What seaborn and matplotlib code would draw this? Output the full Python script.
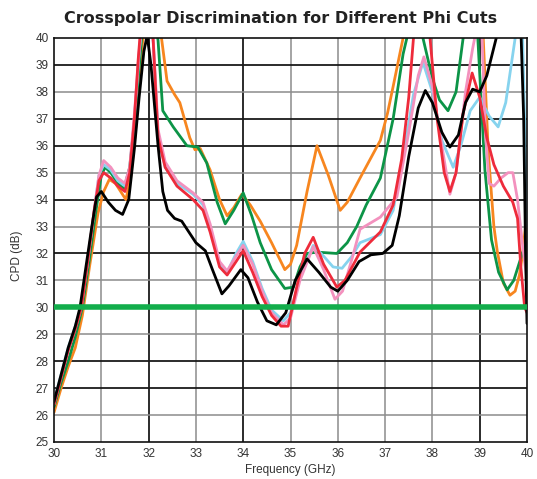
import matplotlib
matplotlib.use("Agg")
import matplotlib.pyplot as plt
import seaborn as sns
import pandas as pd

# ---- data ----
black_x = [30.0, 30.15, 30.3, 30.45, 30.55, 30.7, 30.8, 30.9, 31.0, 31.15, 31.3, 31.45, 31.58, 31.7, 31.8, 31.9, 31.97,
           32.05, 32.12, 32.2, 32.3, 32.4, 32.55, 32.7, 32.85, 33.0, 33.2, 33.35, 33.55, 33.7, 33.95, 34.1, 34.3, 34.5,
           34.7, 34.9, 35.1, 35.35, 35.6, 35.85, 36.0, 36.2, 36.45, 36.7, 36.95, 37.15, 37.3, 37.5, 37.7, 37.85, 38.0,
           38.2, 38.37, 38.55, 38.7, 38.85, 39.0, 39.15, 39.35, 39.5, 39.85, 39.93, 39.97, 40.0]
black_y = [26.5, 27.5, 28.5, 29.3, 30.0, 31.8, 33.0, 34.1, 34.3, 33.9, 33.6, 33.45, 34.0, 35.9, 37.8, 39.5, 40.1,
           39.0, 37.6, 36.0, 34.3, 33.6, 33.3, 33.2, 32.8, 32.4, 32.1, 31.4, 30.5, 30.8, 31.4, 31.1, 30.2, 29.5,
           29.35, 29.8, 31.0, 31.8, 31.3, 30.75, 30.6, 31.0, 31.7, 31.95, 32.0, 32.3, 33.4, 35.6, 37.4, 38.05, 37.6,
           36.5, 35.95, 36.4, 37.6, 38.1, 38.0, 38.6, 40.0, 41.0, 41.5, 37.0, 32.0, 29.4]

orange_x = [30.0, 30.15, 30.3, 30.45, 30.6, 30.75, 30.93, 31.05, 31.17, 31.3, 31.52, 31.62, 31.72, 31.85, 31.95, 32.2,
            32.28, 32.39, 32.55, 32.66, 32.87, 32.98, 33.09, 33.3, 33.5, 33.66, 33.8, 33.97, 34.15, 34.36, 34.6, 34.88,
            35.0, 35.13, 35.35, 35.56, 35.8, 36.05, 36.2, 36.47, 36.9, 37.05, 37.17, 37.38, 37.5, 39.05, 39.18, 39.3,
            39.37, 39.5, 39.64, 39.75, 39.84, 39.9, 40.0]
orange_y = [26.1, 27.0, 27.8, 28.5, 29.7, 31.5, 33.5, 34.3, 34.75, 34.6, 34.0, 34.8, 36.5, 39.5, 41.0, 41.0,
            39.9, 38.4, 37.9, 37.6, 36.3, 35.85, 35.9, 35.1, 34.0, 33.4, 33.7, 34.2, 33.8, 33.2, 32.4, 31.4,
            31.6, 32.3, 34.3, 36.0, 34.9, 33.6, 33.9, 34.8, 36.2, 37.2, 38.2, 40.0, 41.0, 41.0, 35.8, 33.0,
            32.1, 30.9, 30.45, 30.6, 31.2, 31.9, 33.5]

green_x = [30.0, 30.15, 30.3, 30.45, 30.6, 30.75, 30.88, 31.0, 31.08, 31.2, 31.35, 31.48, 31.6, 31.72, 31.82, 31.9,
           32.12, 32.2, 32.3, 32.52, 32.81, 33.04, 33.23, 33.45, 33.62, 33.8, 34.0, 34.18, 34.36, 34.6, 34.88, 35.06,
           35.2, 35.35, 35.56, 35.98, 36.2, 36.4, 36.6, 36.9, 37.17, 37.38, 37.46, 37.55, 37.7, 37.8, 38.0, 38.15,
           38.33, 38.5, 38.65, 38.75, 38.9, 38.96, 39.11, 39.25, 39.4, 39.58, 39.72, 39.9, 40.0]
green_y = [26.3, 27.2, 28.0, 28.9, 30.0, 31.8, 33.5, 34.9, 35.2, 35.0, 34.6, 34.4, 35.2, 37.2, 39.3, 41.0,
           41.0, 39.9, 37.3, 36.7, 36.0, 35.95, 35.36, 33.9, 33.1, 33.6, 34.25, 33.4, 32.4, 31.4, 30.7, 30.75,
           31.5, 32.0, 32.05, 32.0, 32.4, 33.0, 33.8, 34.8, 37.0, 39.4, 40.0, 41.0, 41.0, 40.0, 38.5, 37.7,
           37.3, 38.0, 40.0, 41.0, 41.0, 40.0, 35.1, 32.5, 31.3, 30.65, 31.0, 32.0, 32.4]

pink_x = [30.0, 30.15, 30.3, 30.45, 30.58, 30.72, 30.85, 30.95, 31.05, 31.2, 31.35, 31.5, 31.6, 31.7, 31.8, 31.88,
          32.05, 32.1, 32.2, 32.35, 32.6, 32.94, 33.15, 33.3, 33.5, 33.66, 33.85, 34.0, 34.2, 34.4, 34.6, 34.85,
          35.0, 35.2, 35.48, 35.7, 35.94, 36.1, 36.3, 36.47, 36.9, 37.25, 37.5, 37.7, 37.82, 38.0, 38.2, 38.37,
          38.5, 38.7, 38.85, 38.95, 39.05, 39.12, 39.2, 39.3, 39.45, 39.6, 39.7, 39.8, 39.92, 40.0]
pink_y = [26.4, 27.4, 28.4, 29.2, 30.0, 31.8, 33.6, 34.9, 35.45, 35.2, 34.8, 34.6, 35.2, 37.2, 39.5, 41.0,
          41.0, 39.9, 36.6, 35.4, 34.7, 34.25, 33.9, 33.1, 31.7, 31.35, 31.9, 32.3, 31.6, 30.6, 29.8, 29.35,
          29.6, 31.0, 32.25, 31.4, 30.3, 30.6, 31.8, 32.9, 33.35, 34.1, 36.5, 38.6, 39.3, 38.2, 36.0, 34.2,
          35.0, 38.0, 39.6, 40.5, 40.0, 36.5, 34.6, 34.5, 34.8, 35.0, 35.0, 34.0, 32.1, 31.0]

blue_x = [30.0, 30.15, 30.3, 30.45, 30.57, 30.72, 30.85, 30.95, 31.05, 31.2, 31.35, 31.5, 31.6, 31.7, 31.8, 31.88,
          32.05, 32.1, 32.2, 32.35, 32.6, 32.94, 33.15, 33.3, 33.5, 33.66, 33.85, 34.0, 34.2, 34.4, 34.6, 34.85,
          35.0, 35.2, 35.48, 35.7, 35.9, 36.09, 36.3, 36.47, 36.9, 37.17, 37.4, 37.6, 37.8, 38.0, 38.2, 38.44,
          38.6, 38.8, 39.0, 39.2, 39.39, 39.55, 39.75, 39.85, 39.9, 39.95, 40.0]
blue_y = [26.5, 27.5, 28.5, 29.3, 30.0, 31.8, 33.6, 34.9, 35.3, 35.1, 34.7, 34.5, 35.1, 37.0, 39.4, 41.0,
          41.0, 39.8, 36.4, 35.2, 34.6, 34.2, 33.8, 33.0, 31.6, 31.3, 32.0, 32.45, 31.7, 30.7, 29.9, 29.5,
          29.8, 31.1, 32.3, 31.9, 31.5, 31.45, 31.9, 32.4, 32.7, 33.6, 35.8, 37.9, 39.1, 38.0, 36.2, 35.2,
          36.0, 37.3, 37.8, 37.1, 36.7, 37.6, 40.0, 41.0, 40.5, 37.0, 33.0]

red_x = [30.0, 30.15, 30.3, 30.45, 30.58, 30.72, 30.85, 30.95, 31.05, 31.2, 31.35, 31.5, 31.6, 31.7, 31.78, 31.86,
         32.05, 32.1, 32.2, 32.35, 32.6, 32.94, 33.15, 33.3, 33.5, 33.66, 33.85, 34.0, 34.2, 34.4, 34.6, 34.8,
         34.95, 35.15, 35.3, 35.48, 35.7, 35.98, 36.15, 36.47, 36.9, 37.17, 37.35, 37.5, 37.6, 37.75, 37.85, 37.95,
         38.1, 38.25, 38.37, 38.5, 38.65, 38.84, 39.0, 39.15, 39.3, 39.5, 39.7, 39.8, 39.87, 39.95, 40.0]
red_y = [26.4, 27.4, 28.4, 29.2, 30.0, 31.8, 33.6, 34.7, 35.0, 34.8, 34.5, 34.3, 35.0, 37.0, 39.2, 41.0,
         41.0, 39.8, 36.3, 35.2, 34.5, 34.0, 33.6, 32.8, 31.5, 31.2, 31.7, 32.1, 31.3, 30.4, 29.7, 29.3,
         29.3, 30.9, 32.0, 32.6, 31.6, 30.75, 31.0, 32.05, 32.8, 33.8, 35.5, 37.8, 40.0, 41.0, 41.0, 40.0,
         37.0, 35.0, 34.3, 35.0, 37.2, 38.7, 37.8, 36.3, 35.3, 34.5, 33.9, 33.3, 31.5, 30.0, 29.8]

spec_level = 30.0
x_ticks = [30, 31, 32, 33, 34, 35, 36, 37, 38, 39, 40]
y_ticks = list(range(25, 41))

series = {
    "orange": (orange_x, orange_y),
    "green": (green_x, green_y),
    "blue": (blue_x, blue_y),
    "pink": (pink_x, pink_y),
    "red": (red_x, red_y),
    "black": (black_x, black_y),
}
rows = []
for name, (xs, ys) in series.items():
    for a, b in zip(xs, ys):
        rows.append({"series": name, "freq": a, "cpd": b})
df = pd.DataFrame(rows)

palette = {"orange": "#f7861f", "green": "#0c9447", "blue": "#86d3ee",
           "pink": "#f391be", "red": "#ee2b3b", "black": "#000000"}

sns.set_theme(style="white")
plt.rcParams["font.family"] = ["Liberation Sans", "DejaVu Sans"]

fig = plt.figure(figsize=(5.37, 4.79), dpi=100)
ax = fig.add_axes([54 / 537, 1 - 442 / 479, 473 / 537, 404 / 479])

# grid lines (mixed dark / grey like the scan)
dark_v = {32, 34, 39}
dark_h = {39, 37, 36, 34, 32, 28, 27}
for xv in x_ticks[1:-1]:
    ax.axvline(xv, color="#1a1a1a" if xv in dark_v else "#8c8c8c", lw=1.3 if xv in dark_v else 1.1, zorder=0)
for yv in y_ticks[1:-1]:
    ax.axhline(yv, color="#1a1a1a" if yv in dark_h else "#8c8c8c", lw=1.3 if yv in dark_h else 1.1, zorder=0)

sns.lineplot(data=df, x="freq", y="cpd", hue="series", hue_order=list(series.keys()),
             palette=palette, estimator=None, sort=False, lw=2.0, legend=False, ax=ax)

ax.axhline(spec_level, color="#12ad4b", lw=4.0, zorder=5)

ax.set_xlim(30, 40)
ax.set_ylim(25, 40)
ax.set_xticks(x_ticks)
ax.set_yticks(y_ticks)
ax.tick_params(length=0, labelsize=8.5, colors="#333333", pad=4)
for s in ax.spines.values():
    s.set_color("#111111")
    s.set_linewidth(1.2)

ax.set_xlabel("Frequency (GHz)", fontsize=8.5, color="#333333", labelpad=3)
ax.set_ylabel("CPD (dB)", fontsize=8.5, color="#333333", labelpad=6)
ax.yaxis.set_label_coords(-0.065, 0.46)

fig.text(0.522, 1 - 19 / 479, "Crosspolar Discrimination for Different Phi Cuts",
         ha="center", va="center", fontsize=11.5, fontweight="bold", color="#222222",
         family=["DejaVu Sans"])

fig.savefig("out.png", dpi=100)
